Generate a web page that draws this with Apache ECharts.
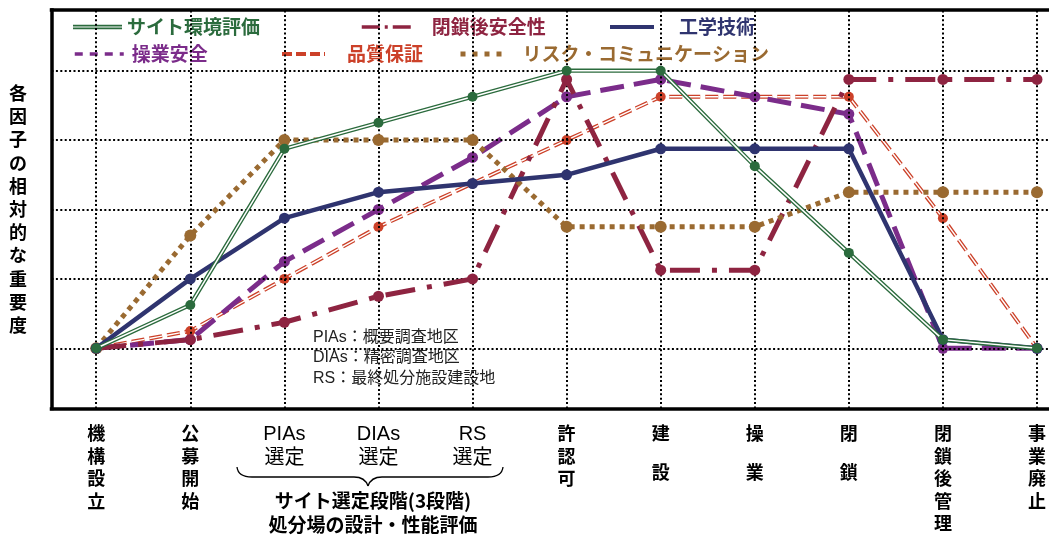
<!DOCTYPE html>
<html>
<head>
<meta charset="utf-8">
<script src="https://cdn.jsdelivr.net/npm/echarts@6/dist/echarts.min.js"></script>
<style>
html,body{margin:0;padding:0;background:#fff;}
#c{width:1049px;height:545px;}
</style>
</head>
<body>
<div id="c"></div>
<script>
// ---- data ----
const categories = ['機構設立','公募開始','PIAs選定','DIAs選定','RS選定','許認可','建設','操業','閉鎖','閉鎖後管理','事業廃止'];
const seriesNames = ['サイト環境評価','閉鎖後安全性','工学技術','操業安全','品質保証','リスク・コミュニケーション'];
const siteEnv     = [0, 0.625, 2.875, 3.25, 3.625, 4, 4, 2.625, 1.375, 0.125, 0];
const postClosure = [0, 0.125, 0.375, 0.75, 1, 3.875, 1.125, 1.125, 3.875, 3.875, 3.875];
const engineering = [0, 1, 1.875, 2.25, 2.375, 2.5, 2.875, 2.875, 2.875, 0.125, 0];
const operation   = [0, 0.125, 1.25, 2, 2.75, 3.625, 3.875, 3.625, 3.375, 0, 0];
const quality     = [0, 0.25, 1, 1.75, 2.375, 3, 3.625, 3.625, 3.625, 1.875, 0];
const riskComm    = [0, 1.625, 3, 3, 3, 1.75, 1.75, 1.75, 2.25, 2.25, 2.25];
const gridLevels  = [0, 1, 2, 3, 4];
const yTitle = '各因子の相対的な重要度';
const noteLines = ['PIAs：概要調査地区','DIAs：精密調査地区','RS：最終処分施設建設地'];
const stageTitle = ['サイト選定段階(3段階)','処分場の設計・性能評価'];

// ---- styles ----
const C = {
  green:'#2b6b3d', dred:'#8e2441', navy:'#2f346f', purple:'#7b2c8a', red:'#cc4129', brown:'#9a6a31'
};
const FF = "'Noto Sans CJK JP', sans-serif";
const FL = "'Liberation Sans', 'Noto Sans CJK JP', sans-serif";
const toXY = arr => arr.map((v, i) => [i, v]);
const X_MIN = -0.4756, X_MAX = 10.118, Y_MIN = -0.8675, Y_MAX = 4.875;

const chart = echarts.init(document.getElementById('c'), null, {renderer:'canvas'});

function lineSeries(name, data, color, width, type, symbolSize, z, extra) {
  return Object.assign({
    name: name, type: 'line', data: toXY(data), z: z,
    symbol: 'circle', symbolSize: symbolSize, showAllSymbol: true,
    clip: false, silent: true, animation: false,
    itemStyle: {color: color},
    lineStyle: {color: color, width: width, type: type, cap: 'butt'},
    emphasis: {disabled: true}
  }, extra || {});
}

function legendItem(name, left, top, itemWidth, color, lineStyle, padLeft, icon) {
  const l = {
    data: [name], left: left, top: top, padding: 0, orient: 'horizontal',
    itemWidth: itemWidth, itemHeight: icon ? 4.5 : 10, selectedMode: false,
    textStyle: {color: color, fontSize: 19, fontWeight: 'bold', fontFamily: FF, lineHeight: 22, padding: [0,0,0,padLeft]}
  };
  if (icon) {
    l.icon = icon; l.symbolKeepAspect = false;
    l.itemStyle = {color: color};
  } else {
    l.lineStyle = Object.assign({color: color}, lineStyle);
    l.itemStyle = {opacity: 0, color: 'rgba(0,0,0,0)', borderWidth: 0};
  }
  return l;
}

const gridMarks = [];
categories.forEach((c, i) => gridMarks.push({xAxis: i}));
gridLevels.forEach(v => gridMarks.push({yAxis: v}));

function xLabel(val) {
  const name = categories[Math.round(val)];
  if (name === undefined) return '';
  const m = name.match(/^([A-Za-z]+)(.*)$/);
  if (m) return '{h|' + m[1] + '}\n{h|' + m[2] + '}';
  if (name.length === 2) return '{v|' + name[0] + '}\n{w|' + name[1] + '}';
  return name.split('').map(ch => '{v|' + ch + '}').join('\n');
}

const borderLine = {show: true, onZero: false, lineStyle: {color: '#000', width: 3.5, cap: 'square'}};
const braceStyle = {stroke: '#000', lineWidth: 1.3, fill: 'none'};
const option = {
  backgroundColor: '#fff',
  animation: false,
  grid: {left: 51.5, right: 0, top: 10, bottom: 136.5, show: false},
  xAxis: [{
    type: 'value', min: X_MIN, max: X_MAX, position: 'bottom',
    axisLine: borderLine, axisTick: {show: false}, splitLine: {show: false},
    axisLabel: {
      show: true, customValues: categories.map((c, i) => i), margin: 13.5,
      formatter: xLabel, color: '#000',
      rich: {
        v: {fontSize: 18, fontWeight: 'bold', lineHeight: 22.5, fontFamily: FF, color: '#000'},
        w: {fontSize: 18, fontWeight: 'bold', lineHeight: 56, fontFamily: FF, color: '#000'},
        h: {fontSize: 20, fontWeight: 'normal', lineHeight: 24.5, fontFamily: FL, color: '#000'}
      }
    }
  }, {
    type: 'value', min: X_MIN, max: X_MAX, position: 'top',
    axisLine: borderLine, axisTick: {show: false}, splitLine: {show: false}, axisLabel: {show: false}
  }],
  yAxis: {
    type: 'value', min: Y_MIN, max: Y_MAX,
    axisLine: borderLine, axisTick: {show: false}, splitLine: {show: false}, axisLabel: {show: false},
    name: yTitle.split('').join('\n'), nameLocation: 'middle', nameRotate: 0, nameGap: 33.5,
    nameTextStyle: {fontSize: 18, fontWeight: 'bold', fontFamily: FF, color: '#000', lineHeight: 23.2, align: 'center', verticalAlign: 'middle', padding: [9,0,0,0]}
  },
  legend: [
    legendItem(seriesNames[0], 73, 16, 49, C.green, null, 0, 'path://M0,0H50V3H0Z M0,5H50V8H0Z'),
    legendItem(seriesNames[1], 360, 16, 50, C.dred, {width: 3.5, type: [18,5,3,5]}, 15),
    legendItem(seriesNames[2], 608, 16, 44, C.navy, {width: 4, type: 'solid'}, 20),
    legendItem(seriesNames[3], 73, 43, 49, C.purple, {width: 3.5, type: [8,7]}, 3),
    legendItem(seriesNames[4], 280, 43, 43, C.red, {width: 4, type: [10,4]}, 17),
    legendItem(seriesNames[5], 458, 43, 47, C.brown, {width: 5, type: [5,7]}, 10)
  ],
  series: [
    {
      name: '_grid', type: 'line', data: [], z: 1, silent: true,
      markLine: {
        silent: true, symbol: ['none','none'], label: {show: false}, animation: false,
        lineStyle: {color: '#000', width: 2, type: [2, 2.4]},
        emphasis: {disabled: true},
        data: gridMarks
      }
    },
    // 品質保証 (double dashed)
    lineSeries(seriesNames[4], quality, C.red, 4, [13,5], 0, 2, {symbol: 'none'}),
    lineSeries(seriesNames[4], quality, C.red, 1.4, [13,5], 10, 3, {lineStyle: {color: '#fff', width: 1.4, type: [13,5], cap: 'butt'}}),
    // 操業安全
    lineSeries(seriesNames[3], operation, C.purple, 5, [24,10], 11, 4),
    // 閉鎖後安全性
    lineSeries(seriesNames[1], postClosure, C.dred, 5, [30,12,5,12], 11, 5),
    // リスク・コミュニケーション
    lineSeries(seriesNames[5], riskComm, C.brown, 5, [5,5], 12, 6),
    // 工学技術
    lineSeries(seriesNames[2], engineering, C.navy, 4.5, 'solid', 11, 7),
    // サイト環境評価 (double line)
    lineSeries(seriesNames[0], siteEnv, C.green, 4.2, 'solid', 0, 8, {symbol: 'none'}),
    lineSeries(seriesNames[0], siteEnv, C.green, 1.5, 'solid', 10, 9, {lineStyle: {color: '#fff', width: 1.5, type: 'solid'}})
  ],
  graphic: [
    {type: 'bezierCurve', silent: true, z: 10, shape: {x1: 237, y1: 467, cpx1: 238, cpy1: 477, x2: 252, y2: 477}, style: braceStyle},
    {type: 'line', silent: true, z: 10, shape: {x1: 252, y1: 477, x2: 354, y2: 477}, style: braceStyle},
    {type: 'bezierCurve', silent: true, z: 10, shape: {x1: 354, y1: 477, cpx1: 365, cpy1: 477, x2: 368, y2: 486}, style: braceStyle},
    {type: 'bezierCurve', silent: true, z: 10, shape: {x1: 368, y1: 486, cpx1: 371, cpy1: 477, x2: 382, y2: 477}, style: braceStyle},
    {type: 'line', silent: true, z: 10, shape: {x1: 382, y1: 477, x2: 488, y2: 477}, style: braceStyle},
    {type: 'bezierCurve', silent: true, z: 10, shape: {x1: 488, y1: 477, cpx1: 502, cpy1: 477, x2: 503, y2: 467}, style: braceStyle},
    {type: 'text', silent: true, z: 10, x: 373, y: 501,
     style: {text: stageTitle[0], fontSize: 19, fontWeight: 'bold', fontFamily: FF, fill: '#000', align: 'center', verticalAlign: 'middle'}},
    {type: 'text', silent: true, z: 10, x: 373, y: 525,
     style: {text: stageTitle[1], fontSize: 19, fontWeight: 'bold', fontFamily: FF, fill: '#000', align: 'center', verticalAlign: 'middle'}},
    {type: 'text', silent: true, z: 10, x: 313, y: 337.5,
     style: {text: noteLines[0], fontSize: 16, fontFamily: FL, fill: '#222', align: 'left', verticalAlign: 'middle'}},
    {type: 'text', silent: true, z: 10, x: 313, y: 358,
     style: {text: noteLines[1], fontSize: 16, fontFamily: FL, fill: '#222', align: 'left', verticalAlign: 'middle'}},
    {type: 'text', silent: true, z: 10, x: 313, y: 379,
     style: {text: noteLines[2], fontSize: 16, fontFamily: FL, fill: '#222', align: 'left', verticalAlign: 'middle'}}
  ]
};
chart.setOption(option);
</script>
</body>
</html>
